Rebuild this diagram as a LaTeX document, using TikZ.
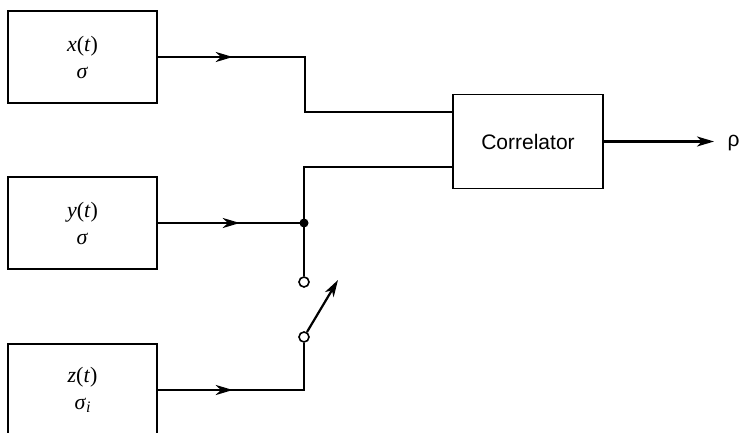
\documentclass[tikz,border=0pt]{standalone}
\usepackage{fontspec}
\newfontfamily\sansf{Liberation Sans}
\newfontfamily\seriff{Liberation Serif}
\usetikzlibrary{arrows.meta,decorations.markings}
\begin{document}
\begin{tikzpicture}[x=1pt,y=-1pt,
  blk/.style={draw, line width=1.6pt, minimum width=149pt, minimum height=92pt, inner sep=0pt, align=center, font=\seriff\fontsize{22}{27}\selectfont},
  wire/.style={line width=2.2pt},
  tip/.style={-{Stealth[length=17pt,width=10pt,inset=5pt]}},
  midarrow/.style={postaction={decorate},decoration={markings,mark=at position #1 with {\arrow{Stealth[length=17pt,width=10pt,inset=5pt]}}}},
  term/.style={circle, draw, line width=1.6pt, fill=white, minimum size=10pt, inner sep=0pt}
]
\useasboundingbox (0,0) rectangle (741,433);
\node[blk] (xbox) at (82.5,57) {\textit{x}(\textit{t})\\\textit{σ}};
\node[blk] (ybox) at (82.5,223) {\textit{y}(\textit{t})\\\textit{σ}};
\node[blk] (zbox) at (82.5,390) {\textit{z}(\textit{t})\\\textit{σ}\raisebox{-0.35ex}{\fontsize{16}{16}\selectfont\textit{i}}};
\node[draw, line width=1.6pt, minimum width=150pt, minimum height=94pt, inner sep=0pt, font=\sansf\fontsize{21}{24}\selectfont] (corr) at (528,141.5) {Correlator};
\coordinate (j) at (304,223);
\node[term] (c1) at (304,282) {};
\node[term] (c2) at (304,337) {};
\coordinate (sw) at (338,280);
\coordinate (out) at (714,141.5);
\node[font=\sansf\fontsize{21}{24}\selectfont, anchor=west] (rho) at (724,143) {ρ};

\draw[wire, midarrow=75pt] (xbox.east |- 0,57) -- (305,57) |- (corr.west |- 0,112);
\draw[wire, midarrow=82pt] (ybox.east |- j) -- (j);
\draw[wire] (j) |- (corr.west |- 0,167);
\fill (j) circle (4.5pt);
\draw[wire] (j) -- (c1);
\draw[wire, midarrow=75pt] (zbox.east |- 0,390) -| (c2);
\draw[wire, tip] (c2) -- (sw);
\draw[wire, tip] (corr.east) -- (out);
\end{tikzpicture}
\end{document}
